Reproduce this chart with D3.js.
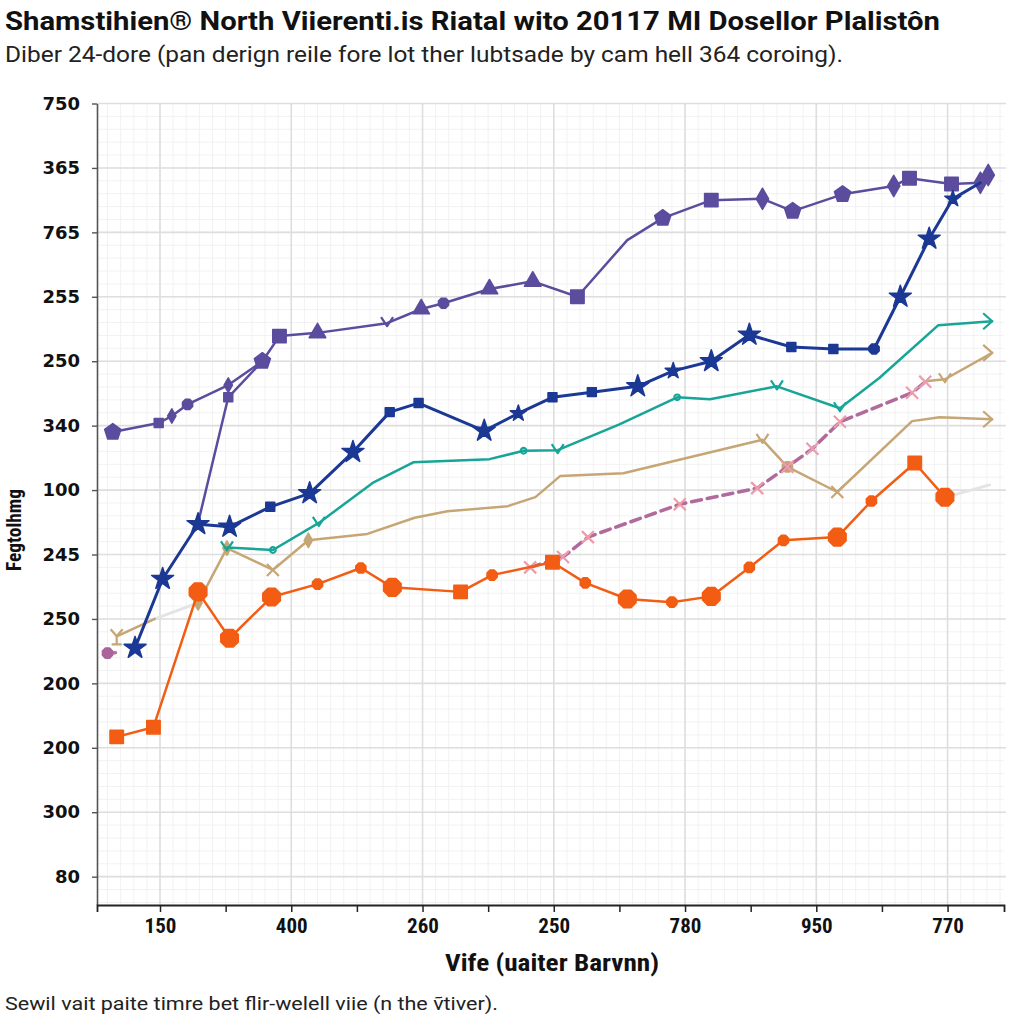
<!DOCTYPE html>
<html>
<head>
<meta charset="utf-8">
<script src="https://cdn.jsdelivr.net/npm/d3@7"></script>
<style>
  html, body { margin: 0; padding: 0; background: #ffffff; }
  svg { display: block; }
</style>
</head>
<body>
<svg id="chart" width="1024" height="1024"></svg>
<script>
// ---------------- DATA ----------------
const titleText = "Shamstihien\u00AE North Viierenti.is Riatal wito 20117 MI Dosellor Plalist\u00F4n";
const subtitleText = "Diber 24-dore (pan derign reile fore lot ther lubtsade by cam hell 364 coroing).";
const xAxisTitle = "Vife (uaiter Barvnn)";
const yAxisTitle = "Fegtolhmg";
const footerText = "Sewil vait paite timre bet flir-welell viie (n the \u1E7Dtiver).";

// x tick labels at positions 0..6, y tick labels at positions 0..12 (bottom to top)
const xTickLabels = ["150", "400", "260", "250", "780", "950", "770"];
const yTickLabels = ["80", "300", "200", "200", "250", "245", "100", "340", "250", "255", "765", "365", "750"];

// series values as [x, y] in axis-position units
const purpleSeries = [[-0.36,6.90],[-0.01,7.04],[0.09,7.15],[0.21,7.33],[0.52,7.63],[0.78,8.00],[0.91,8.39],[1.20,8.44],[1.73,8.59],[1.99,8.81],[2.16,8.90],[2.51,9.12],[2.84,9.24],[3.18,9.00],[3.56,9.88],[3.83,10.22],[4.20,10.50],[4.59,10.52],[4.82,10.33],[5.20,10.59],[5.59,10.72],[5.71,10.84],[6.03,10.75],[6.25,10.77],[6.31,10.89]];
const purpleBranch = [[0.29,5.49],[0.52,7.44],[0.78,8.00]];
const blueSeries = [[-0.19,3.55],[0.02,4.62],[0.29,5.47],[0.53,5.43],[0.84,5.74],[1.14,5.95],[1.47,6.59],[1.75,7.21],[1.97,7.35],[2.47,6.92],[2.73,7.19],[2.99,7.44],[3.29,7.52],[3.64,7.61],[3.91,7.85],[4.20,8.00],[4.49,8.41],[4.81,8.22],[5.13,8.19],[5.44,8.19],[5.64,9.00],[5.86,9.90],[6.04,10.52],[6.25,10.77]];
const tealSeries = [[0.51,5.11],[0.86,5.07],[1.21,5.49],[1.62,6.11],[1.93,6.43],[2.51,6.48],[2.77,6.61],[3.03,6.62],[3.50,7.02],[3.94,7.44],[4.19,7.41],[4.70,7.61],[5.18,7.27],[5.48,7.74],[5.93,8.56],[6.34,8.62]];
const tanSeries = [[-0.33,3.73],[-0.04,4.00],null,[0.29,4.25],[0.51,5.10],[0.86,4.76],[1.13,5.22],[1.58,5.32],[1.94,5.57],[2.19,5.67],[2.65,5.75],[2.86,5.89],[3.01,6.15],[3.05,6.22],[3.53,6.26],[4.59,6.78],[4.78,6.36],[5.16,5.97],[5.73,7.07],[5.94,7.13],[6.34,7.10]];
const tanUpperSeries = [[5.83,7.69],[5.98,7.72],[6.34,8.13]];
const pinkStartSeries = [[-0.40,3.47],[-0.31,3.48]];
const pinkSeries = [[2.82,4.80],[3.07,4.96],[3.26,5.27],[3.96,5.78],[4.55,6.03],[4.78,6.36],[4.97,6.64],[5.18,7.06],[5.73,7.51],[5.83,7.68]];
const greySeriesA = [[-0.04,4.00],[0.29,4.25]];
const greySeriesB = [[5.99,5.89],[6.32,6.08]];
const orangeSeries = [[-0.33,2.17],[-0.05,2.32],[0.29,4.42],[0.53,3.70],[0.85,4.34],[1.20,4.54],[1.53,4.79],[1.77,4.49],[2.29,4.42],[2.53,4.68],[2.99,4.88],[3.24,4.56],[3.56,4.31],[3.90,4.26],[4.20,4.35],[4.49,4.80],[4.75,5.22],[5.16,5.27],[5.42,5.83],[5.75,6.42],[5.98,5.89]];

// ---------------- STYLE ----------------
const styles = [
  { data: greySeriesA, color: "#e4e4e4", width: 3, markers: "- -" },
  { data: greySeriesB, color: "#e4e4e4", width: 3, markers: "- -" },
  { data: tanSeries, color: "#c6a674", width: 2.5, markers: "y - - d d k d - - - - - - - - c o k - - >" },
  { data: tanUpperSeries, color: "#c6a674", width: 2.5, markers: "- c >" },
  { data: pinkStartSeries, color: "#b5739e", width: 3.5, dash: "8,5", markers: "o -" , mcolor: "#a9649a"},
  { data: pinkSeries, color: "#b06a9c", width: 3.5, dash: "10,6", markers: "k k k k k k k k k k", mcolor: "#ec9cab" },
  { data: orangeSeries, color: "#f25c13", width: 2.5, markers: "S S O O O o o O S o S o O o O o o O o S O" },
  { data: tealSeries, color: "#17a597", width: 2.5, markers: "c i c - - - i c - i - c c - - >" },
  { data: purpleBranch, color: "#5b4c9e", width: 2.5, markers: "- s -" },
  { data: purpleSeries, color: "#5b4c9e", width: 2.5, markers: "P s d o d P S T c T o T T S - P S D P P D S S D D" },
  { data: blueSeries, color: "#1b3894", width: 3, markers: "X X X X s X X s s X x s s X x X X s s o X X x -" }
];

// ---------------- LAYOUT ----------------
const svg = d3.select("#chart");
const plotLeft = 97, plotRight = 1004, plotTop = 103.5, plotBottom = 905;

const x = d3.scaleLinear().domain([-0.48, 6.43]).range([plotLeft, plotRight]);
const y = d3.scaleLinear().domain([-0.44, 12]).range([plotBottom, plotTop]);

// minor grid
const gMinor = svg.append("g");
gMinor.selectAll("line.hm").data(d3.range(-0.4, 12.01, 0.2)).enter().append("line")
  .attr("x1", plotLeft).attr("x2", plotRight).attr("y1", d => y(d)).attr("y2", d => y(d))
  .attr("stroke", "#f2f2f2").attr("stroke-width", 1);
gMinor.selectAll("line.vm").data(d3.range(-0.4, 6.43, 0.1)).enter().append("line")
  .attr("y1", plotTop).attr("y2", plotBottom).attr("x1", d => x(d)).attr("x2", d => x(d))
  .attr("stroke", "#f2f2f2").attr("stroke-width", 1);

// major grid
const gMajor = svg.append("g");
gMajor.selectAll("line.h").data(d3.range(0, 13)).enter().append("line")
  .attr("x1", plotLeft).attr("x2", plotRight + 2).attr("y1", d => y(d)).attr("y2", d => y(d))
  .attr("stroke", "#dedede").attr("stroke-width", 1.6);
gMajor.selectAll("line.v").data(d3.range(0, 7)).enter().append("line")
  .attr("y1", plotTop).attr("y2", plotBottom).attr("x1", d => x(d)).attr("x2", d => x(d))
  .attr("stroke", "#dedede").attr("stroke-width", 1.6);

// axes
const yAxis = d3.axisLeft(y).tickValues(d3.range(0, 13)).tickSize(5).tickSizeOuter(0)
  .tickFormat(i => yTickLabels[i]);
const gy = svg.append("g").attr("transform", `translate(${plotLeft},0)`).call(yAxis);
gy.select(".domain").attr("stroke", "#555").attr("stroke-width", 1.6);
gy.selectAll(".tick line").attr("stroke", "#555").attr("stroke-width", 1.4);
gy.selectAll(".tick text").attr("x", -17)
  .style("font-family", "'DejaVu Sans', sans-serif").style("font-weight", "bold")
  .style("font-size", "18px").attr("fill", "#111");

const xTickVals = d3.range(0, 6.01, 0.5);
const xAxis = d3.axisBottom(x).tickValues(xTickVals).tickSize(7).tickSizeOuter(7)
  .tickFormat(v => Number.isInteger(v) ? xTickLabels[v] : "");
const gx = svg.append("g").attr("transform", `translate(0,${plotBottom})`).call(xAxis);
gx.select(".domain").attr("stroke", "#222").attr("stroke-width", 1.8);
gx.selectAll(".tick line").attr("stroke", "#222").attr("stroke-width", 1.5);
gx.selectAll(".tick text").attr("y", 13)
  .style("font-family", "'Liberation Sans Narrow', 'Roboto Condensed', 'DejaVu Sans Condensed', 'Roboto', sans-serif")
  .style("font-stretch", "condensed").style("font-weight", "bold")
  .style("font-size", "21px").attr("fill", "#111");

// ---------------- SERIES ----------------
const line = d3.line().defined(d => d !== null).x(d => x(d[0])).y(d => y(d[1]));

function poly(n, r, rot) {
  const pts = d3.range(n).map(i => {
    const a = rot + i * 2 * Math.PI / n;
    return [r * Math.cos(a), r * Math.sin(a)];
  });
  return "M" + pts.map(p => p[0].toFixed(2) + "," + p[1].toFixed(2)).join("L") + "Z";
}
function markerShape(code) {
  switch (code) {
    case "P": return { d: poly(5, 8.5, -Math.PI / 2), fill: true };
    case "p": return { d: poly(5, 6, -Math.PI / 2), fill: true };
    case "S": return { d: d3.symbol(d3.symbolSquare, 180)(), fill: true };
    case "s": return { d: d3.symbol(d3.symbolSquare, 80)(), fill: true };
    case "D": return { d: d3.symbol(d3.symbolDiamond, 130)(), fill: true };
    case "d": return { d: d3.symbol(d3.symbolDiamond, 60)(), fill: true };
    case "T": return { d: d3.symbol(d3.symbolTriangle, 120)(), fill: true };
    case "O": return { d: poly(8, 9.5, Math.PI / 8), fill: true };
    case "o": return { d: poly(8, 5.5, Math.PI / 8), fill: true };
    case "i": return { d: d3.symbol(d3.symbolCircle, 25)(), fill: false };
    case "X": return { d: d3.symbol(d3.symbolStar, 150)(), fill: true };
    case "x": return { d: d3.symbol(d3.symbolStar, 80)(), fill: true };
    case "c": return { d: "M-6,-6L0,3L6,-6", fill: false };
    case "y": return { d: "M-6,-7L0,0L6,-7M0,0L0,8M-5,8L5,8", fill: false };
    case "k": return { d: "M-6,-6L6,6M-6,6L6,-6", fill: false };
    case ">": return { d: "M-9,-8L0,0L-9,8", fill: false };
    default: return null;
  }
}

const gSeries = svg.append("g");
styles.forEach(s => {
  gSeries.append("path").datum(s.data).attr("d", line)
    .attr("fill", "none").attr("stroke", s.color).attr("stroke-width", s.width)
    .attr("stroke-linejoin", "round").attr("stroke-linecap", "round")
    .attr("stroke-dasharray", s.dash || null);
  const codes = s.markers.split(" ");
  const pts = s.data.map((d, i) => ({ d, code: codes[i] || "-" })).filter(p => p.d !== null);
  pts.forEach(p => {
    const shape = markerShape(p.code);
    if (!shape) return;
    const mc = s.mcolor || s.color;
    gSeries.append("path").attr("d", shape.d)
      .attr("transform", `translate(${x(p.d[0])},${y(p.d[1])})`)
      .attr("fill", shape.fill ? mc : "#ffffff")
      .attr("fill-opacity", shape.fill ? 1 : 0)
      .attr("stroke", mc).attr("stroke-width", shape.fill ? 1.5 : 2.2)
      .attr("stroke-linejoin", "round");
  });
});

// ---------------- TEXT ----------------
svg.append("text").attr("x", 5).attr("y", 30).text(titleText)
  .style("font-family", "Roboto, 'Open Sans', sans-serif").style("font-weight", "bold")
  .style("font-size", "25px").attr("fill", "#111")
  .attr("textLength", 935).attr("lengthAdjust", "spacingAndGlyphs");
svg.append("text").attr("x", 5).attr("y", 62).text(subtitleText)
  .style("font-family", "Roboto, 'Open Sans', sans-serif")
  .style("font-size", "22px").attr("fill", "#222")
  .attr("textLength", 838).attr("lengthAdjust", "spacingAndGlyphs");
svg.append("text").attr("x", 552).attr("y", 971).attr("text-anchor", "middle").text(xAxisTitle)
  .style("font-family", "'Liberation Sans Narrow', 'Roboto Condensed', Roboto, sans-serif")
  .style("font-stretch", "condensed").style("font-weight", "bold")
  .style("font-size", "23px").attr("fill", "#111")
  .attr("textLength", 214).attr("lengthAdjust", "spacingAndGlyphs");
svg.append("text").attr("transform", "translate(21,530) rotate(-90)").attr("text-anchor", "middle").text(yAxisTitle)
  .style("font-family", "'Liberation Sans Narrow', 'Roboto Condensed', Roboto, sans-serif")
  .style("font-weight", "bold").style("font-size", "21px").attr("fill", "#111")
  .attr("textLength", 82).attr("lengthAdjust", "spacingAndGlyphs");
svg.append("text").attr("x", 5).attr("y", 1010).text(footerText)
  .style("font-family", "Roboto, 'Open Sans', sans-serif")
  .style("font-size", "19px").attr("fill", "#222")
  .attr("textLength", 493).attr("lengthAdjust", "spacingAndGlyphs");
</script>
</body>
</html>
